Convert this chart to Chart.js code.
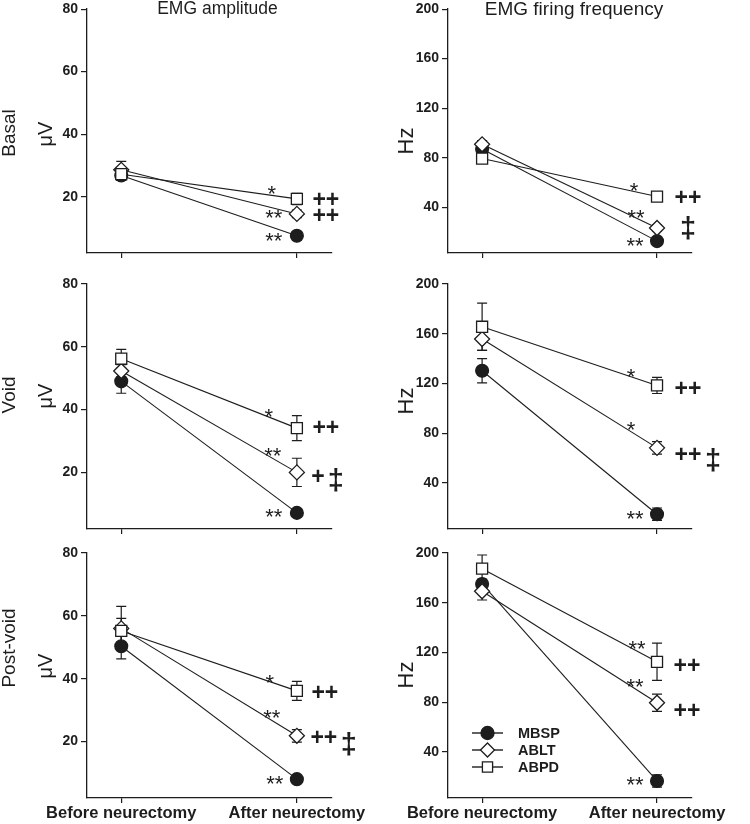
<!DOCTYPE html>
<html>
<head>
<meta charset="utf-8">
<script src="https://cdn.jsdelivr.net/npm/chart.js@4/dist/chart.umd.min.js"></script>
<style>
html, body { margin: 0; padding: 0; background: #ffffff; }
#wrap { position: relative; width: 750px; height: 824px; overflow: hidden; background: #ffffff; }
#wrap canvas { position: absolute; }
</style>
</head>
<body>
<div id="wrap"></div>
<script>
// ===================== DATA =====================
const categories = ['Before neurectomy', 'After neurectomy'];
const seriesNames = ['MBSP', 'ABLT', 'ABPD'];
const columnTitles = ['EMG amplitude', 'EMG firing frequency'];
const rowLabels = ['Basal', 'Void', 'Post-void'];
const unitLabels = ['μV', 'Hz'];
const amplitudeTicks = [20, 40, 60, 80];
const frequencyTicks = [40, 80, 120, 160, 200];
const amplitudeRange = [2, 80];
const frequencyRange = [3, 200];

// Basal – amplitude (μV)
const basalAmpMBSP = [26.8, 7.5];
const basalAmpABLT = [28.6, 14.5];
const basalAmpABPD = [27.2, 19.3];
const basalAmpErrMBSP = [1.5, 0.8];
const basalAmpErrABLT = [2.7, 1.2];
const basalAmpErrABPD = [2.0, 1.8];
// Basal – firing frequency (Hz)
const basalFreqMBSP = [87.0, 12.6];
const basalFreqABLT = [90.8, 23.2];
const basalFreqABPD = [79.3, 48.6];
const basalFreqErrMBSP = [3, 2];
const basalFreqErrABLT = [3, 2.5];
const basalFreqErrABPD = [3, 2];
// Void – amplitude
const voidAmpMBSP = [49.0, 7.1];
const voidAmpABLT = [52.3, 20.0];
const voidAmpABPD = [56.2, 34.1];
const voidAmpErrMBSP = [3.8, 0.8];
const voidAmpErrABLT = [2.0, 4.5];
const voidAmpErrABPD = [3.0, 4.0];
// Void – firing frequency
const voidFreqMBSP = [130.2, 14.8];
const voidFreqABLT = [155.7, 68.2];
const voidFreqABPD = [165.6, 118.4];
const voidFreqErrMBSP = [9.7, 5];
const voidFreqErrABLT = [9, 5];
const voidFreqErrABPD = [19, 6.5];
// Post-void – amplitude
const postAmpMBSP = [50.3, 8.0];
const postAmpABLT = [56.0, 21.8];
const postAmpABPD = [55.2, 36.1];
const postAmpErrMBSP = [4, 0.8];
const postAmpErrABLT = [7, 2];
const postAmpErrABPD = [4, 3];
// Post-void – firing frequency
const postFreqMBSP = [175.1, 16.7];
const postFreqABLT = [169.2, 79.6];
const postFreqABPD = [187.4, 112.5];
const postFreqErrMBSP = [4, 5];
const postFreqErrABLT = [7, 7];
const postFreqErrABPD = [11, 15];

// Significance marks per series [MBSP, ABLT, ABPD]
const basalAmpStars = ['**', '**', '*'];   const basalAmpPlus = ['', '++', '++']; const basalAmpDagger = ['', '', ''];
const basalFreqStars = ['**', '**', '*'];  const basalFreqPlus = ['', '', '++'];  const basalFreqDagger = ['', '‡', ''];
const voidAmpStars = ['**', '**', '*'];    const voidAmpPlus = ['', '+', '++'];   const voidAmpDagger = ['', '‡', ''];
const voidFreqStars = ['**', '*', '*'];    const voidFreqPlus = ['', '++', '++']; const voidFreqDagger = ['', '‡', ''];
const postAmpStars = ['**', '**', '*'];    const postAmpPlus = ['', '++', '++'];  const postAmpDagger = ['', '‡', ''];
const postFreqStars = ['**', '**', '**'];  const postFreqPlus = ['', '++', '++']; const postFreqDagger = ['', '', ''];

// ===================== LAYOUT / STYLE =====================
const INK = '#1d1d1d';
const FONT = '"Liberation Sans", Arial, Helvetica, sans-serif';
const COLS = [
  { left: 0,   width: 375, areaLeft: 87, areaRight: 332, unitBase: 52, unitSize: 20, titleX: 217.5, titleBase: 14, titleSize: 17.5 },
  { left: 375, width: 375, areaLeft: 73, areaRight: 317, unitBase: 38, unitSize: 22, titleX: 199,   titleBase: 15, titleSize: 19 }
];
const ROWS = [
  { top: 0,   height: 266, areaTop: 6,  areaBottom: 253 },
  { top: 266, height: 272, areaTop: 18, areaBottom: 263 },
  { top: 538, height: 286, areaTop: 15, areaBottom: 260 }
];
const ROW_LABEL_Y = [133, 129, 110];         // canvas y of row label centre
const UNIT_LABEL_Y = [[134, 141], [130, 135], [128, 137]];
const SERIES_STYLE = [
  { shape: 'circle',  r: 6.4, fill: INK },
  { shape: 'rectRot', r: 7.5, fill: '#ffffff' },
  { shape: 'rect',    r: 7.8, fill: '#ffffff' }
];
const ANNOT_FONTS = ['normal 22px ', 'bold 23px ', 'bold 29px '];
// label nudges (px) relative to the "after" point: [stars, plus, dagger] per series
const ANNOT_OFFSETS = [
  [[[-23, 1]], [[-23, 0], [29, 1]], [[-25, -9], [29, 0]]],
  [[[-22, 1]], [[-21, -14], [31, 0], [25, 2]], [[-23, -10], [31, 0]]],
  [[[-23, 0]], [[-24, -20], [21, 3], [39, 8]], [[-28, -15], [29, -2]]],
  [[[-22, 1]], [[-26, -22], [31, 6], [56, 12]], [[-26, -12], [31, 2]]],
  [[[-22, 1]], [[-25, -22], [27, 1], [52, 8]], [[-27, -12], [28, 1]]],
  [[[-22, 0]], [[-22, -20], [30, 7]], [[-20, -17], [30, 3]]]
];

const PANELS = [
  { row: 0, col: 0, values: [basalAmpMBSP, basalAmpABLT, basalAmpABPD], errors: [basalAmpErrMBSP, basalAmpErrABLT, basalAmpErrABPD],
    stars: basalAmpStars, plus: basalAmpPlus, dagger: basalAmpDagger },
  { row: 0, col: 1, values: [basalFreqMBSP, basalFreqABLT, basalFreqABPD], errors: [basalFreqErrMBSP, basalFreqErrABLT, basalFreqErrABPD],
    stars: basalFreqStars, plus: basalFreqPlus, dagger: basalFreqDagger },
  { row: 1, col: 0, values: [voidAmpMBSP, voidAmpABLT, voidAmpABPD], errors: [voidAmpErrMBSP, voidAmpErrABLT, voidAmpErrABPD],
    stars: voidAmpStars, plus: voidAmpPlus, dagger: voidAmpDagger },
  { row: 1, col: 1, values: [voidFreqMBSP, voidFreqABLT, voidFreqABPD], errors: [voidFreqErrMBSP, voidFreqErrABLT, voidFreqErrABPD],
    stars: voidFreqStars, plus: voidFreqPlus, dagger: voidFreqDagger },
  { row: 2, col: 0, values: [postAmpMBSP, postAmpABLT, postAmpABPD], errors: [postAmpErrMBSP, postAmpErrABLT, postAmpErrABPD],
    stars: postAmpStars, plus: postAmpPlus, dagger: postAmpDagger },
  { row: 2, col: 1, values: [postFreqMBSP, postFreqABLT, postFreqABPD], errors: [postFreqErrMBSP, postFreqErrABLT, postFreqErrABPD],
    stars: postFreqStars, plus: postFreqPlus, dagger: postFreqDagger, legend: true }
];

// ===================== HELPERS =====================
function fillCentered(ctx, text, cx, cy) {
  const m = ctx.measureText(text);
  ctx.textAlign = 'center';
  ctx.textBaseline = 'alphabetic';
  ctx.fillText(text, cx, cy + (m.actualBoundingBoxAscent - m.actualBoundingBoxDescent) / 2);
}

function drawMarker(ctx, style, x, y, r) {
  ctx.save();
  ctx.fillStyle = style.fill;
  ctx.strokeStyle = INK;
  ctx.lineWidth = 1.3;
  ctx.beginPath();
  if (style.shape === 'circle') {
    ctx.arc(x, y, r, 0, Math.PI * 2);
  } else if (style.shape === 'rectRot') {
    ctx.moveTo(x - r, y); ctx.lineTo(x, y - r); ctx.lineTo(x + r, y); ctx.lineTo(x, y + r); ctx.closePath();
  } else {
    const s = r * Math.SQRT1_2;
    ctx.rect(x - s, y - s, 2 * s, 2 * s);
  }
  ctx.fill();
  ctx.stroke();
  ctx.restore();
}

const errorBarPlugin = {
  id: 'errorBars',
  beforeDatasetsDraw(chart) {
    const { ctx, scales: { x, y } } = chart;
    ctx.save();
    ctx.strokeStyle = INK;
    ctx.lineWidth = 1.2;
    chart.data.datasets.forEach(ds => {
      ds.data.forEach(pt => {
        if (!pt.err) return;
        const px = x.getPixelForValue(pt.x);
        const yT = y.getPixelForValue(pt.y + pt.err);
        const yB = y.getPixelForValue(pt.y - pt.err);
        ctx.beginPath();
        ctx.moveTo(px, yT); ctx.lineTo(px, yB);
        ctx.moveTo(px - 5, yT); ctx.lineTo(px + 5, yT);
        ctx.moveTo(px - 5, yB); ctx.lineTo(px + 5, yB);
        ctx.stroke();
      });
    });
    ctx.restore();
  }
};

const decorPlugin = {
  id: 'decor',
  afterDraw(chart) {
    const p = chart.config.options.plugins.decor;
    const { ctx, scales: { x, y }, chartArea } = chart;
    const col = COLS[p.col];
    ctx.save();
    ctx.fillStyle = INK;

    // significance annotations next to the "after" points
    const offs = ANNOT_OFFSETS[p.index];
    for (let s = 0; s < 3; s++) {
      const px = x.getPixelForValue(1);
      const py = y.getPixelForValue(p.values[s][1]);
      const texts = [p.stars[s], p.plus[s], p.dagger[s]];
      let k = 0;
      texts.forEach((t, j) => {
        if (!t) return;
        const o = offs[s][k++];
        ctx.font = ANNOT_FONTS[j] + FONT;
        fillCentered(ctx, t, px + o[0], py + o[1]);
      });
    }

    // column title
    if (p.row === 0) {
      ctx.font = 'normal ' + col.titleSize + 'px ' + FONT;
      ctx.textAlign = 'center';
      ctx.textBaseline = 'alphabetic';
      ctx.fillText(columnTitles[p.col], col.titleX, col.titleBase);
    }

    // row label (left column only)
    if (p.col === 0) {
      ctx.save();
      ctx.translate(15, ROW_LABEL_Y[p.row]);
      ctx.rotate(-Math.PI / 2);
      ctx.font = 'normal 19px ' + FONT;
      ctx.textAlign = 'center';
      ctx.textBaseline = 'alphabetic';
      ctx.fillText(rowLabels[p.row], 0, 0);
      ctx.restore();
    }

    // unit label
    ctx.save();
    ctx.translate(col.unitBase, UNIT_LABEL_Y[p.row][p.col]);
    ctx.rotate(-Math.PI / 2);
    ctx.font = 'normal ' + col.unitSize + 'px ' + FONT;
    ctx.textAlign = 'center';
    ctx.textBaseline = 'alphabetic';
    ctx.fillText(unitLabels[p.col], 0, 0);
    ctx.restore();

    // legend
    if (p.legend) {
      const lx0 = chartArea.left + 24, lx1 = chartArea.left + 55, mx = (lx0 + lx1) / 2;
      const tx = chartArea.left + 70;
      seriesNames.forEach((name, s) => {
        const ly = chartArea.top + 180 + s * 17;
        ctx.strokeStyle = INK;
        ctx.lineWidth = 1.4;
        ctx.beginPath(); ctx.moveTo(lx0, ly); ctx.lineTo(lx1, ly); ctx.stroke();
        const st = SERIES_STYLE[s];
        drawMarker(ctx, st, mx, ly, s === 0 ? 6.5 : (s === 1 ? 7 : 7.2));
        ctx.fillStyle = INK;
        ctx.font = 'bold 14.5px ' + FONT;
        ctx.textAlign = 'left';
        ctx.textBaseline = 'alphabetic';
        ctx.fillText(name, tx, ly + 5.2);
      });
    }
    ctx.restore();
  }
};

// ===================== BUILD =====================
const wrap = document.getElementById('wrap');
PANELS.forEach((p, index) => {
  const col = COLS[p.col], row = ROWS[p.row];
  const canvas = document.createElement('canvas');
  canvas.width = col.width; canvas.height = row.height;
  canvas.style.left = col.left + 'px'; canvas.style.top = row.top + 'px';
  canvas.style.width = col.width + 'px'; canvas.style.height = row.height + 'px';
  wrap.appendChild(canvas);

  const isAmp = p.col === 0;
  const tickVals = isAmp ? amplitudeTicks : frequencyTicks;
  const range = isAmp ? amplitudeRange : frequencyRange;

  new Chart(canvas, {
    type: 'line',
    data: {
      datasets: seriesNames.map((name, s) => ({
        label: name,
        data: p.values[s].map((v, i) => ({ x: i, y: v, err: p.errors[s][i] })),
        borderColor: INK,
        borderWidth: 1.1,
        pointStyle: SERIES_STYLE[s].shape,
        pointRadius: SERIES_STYLE[s].r,
        pointBackgroundColor: SERIES_STYLE[s].fill,
        pointBorderColor: INK,
        pointBorderWidth: 1.3,
        tension: 0,
        fill: false,
        clip: false,
        order: 3 - s
      }))
    },
    options: {
      responsive: false,
      animation: false,
      devicePixelRatio: 1,
      events: [],
      layout: { padding: { left: 0, right: col.width - col.areaRight, top: row.areaTop, bottom: 0 } },
      plugins: {
        legend: { display: false },
        tooltip: { enabled: false },
        title: { display: false },
        decor: Object.assign({ index }, p)
      },
      scales: {
        x: {
          type: 'linear',
          min: -0.195,
          max: 1.2,
          afterBuildTicks: sc => { sc.ticks = categories.map((c, i) => ({ value: i })); },
          afterFit: sc => { sc.height = row.height - row.areaBottom; sc.paddingLeft = 0; sc.paddingRight = 0; },
          grid: { display: true, drawOnChartArea: false, drawTicks: true, tickLength: 5, color: INK, lineWidth: 1.2 },
          border: { display: true, color: INK, width: 1.3 },
          ticks: {
            display: p.row === 2,
            autoSkip: false, maxRotation: 0, minRotation: 0, padding: 1,
            color: INK,
            font: { family: FONT, size: 16.5, weight: 'bold' },
            callback: v => (categories[v] !== undefined ? categories[v] : '')
          }
        },
        y: {
          type: 'linear',
          min: range[0],
          max: range[1],
          afterBuildTicks: sc => { sc.ticks = tickVals.map(v => ({ value: v })); },
          afterFit: sc => { sc.width = col.areaLeft; sc.paddingTop = 0; sc.paddingBottom = 0; },
          grid: { display: true, drawOnChartArea: false, drawTicks: true, tickLength: 6, color: INK, lineWidth: 1.2 },
          border: { display: true, color: INK, width: 1.3 },
          ticks: { padding: 3, color: INK, font: { family: FONT, size: 14, weight: 'bold' } }
        }
      }
    },
    plugins: [errorBarPlugin, decorPlugin]
  });
});
</script>
</body>
</html>
